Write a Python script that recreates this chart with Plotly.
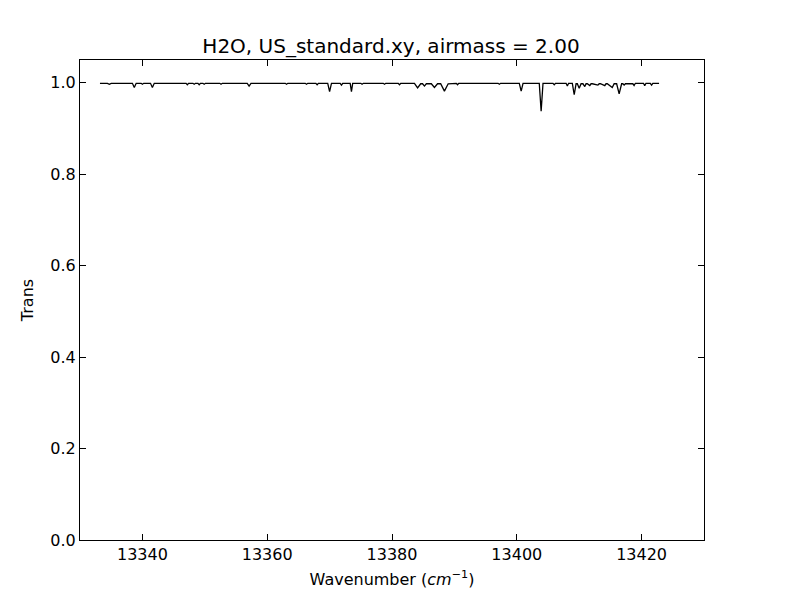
import plotly.graph_objects as go

# Transmission spectrum (wavenumber in cm^-1)
wavenumber = [
    13333.2, 13334.4, 13334.7, 13335.0, 13338.4, 13338.7, 13339.0, 13339.8, 13340.0, 13340.2,
    13341.3, 13341.6, 13341.9, 13347.0, 13347.2, 13347.4, 13348.1, 13348.3, 13348.5, 13348.9,
    13349.1, 13349.3, 13349.7, 13349.9, 13350.1, 13352.4, 13352.6, 13352.8, 13356.8, 13357.1,
    13357.4, 13362.9, 13363.1, 13363.3, 13366.1, 13366.3, 13366.5, 13367.8, 13368.0, 13368.2,
    13369.7, 13370.0, 13370.3, 13371.7, 13371.9, 13372.1, 13373.3, 13373.5, 13373.7, 13375.0,
    13375.2, 13375.4, 13378.6, 13378.8, 13379.0, 13381.0, 13381.2, 13381.4, 13383.6, 13384.1,
    13384.6, 13384.9, 13385.2, 13385.5, 13386.3, 13386.8, 13387.3, 13387.8, 13388.4, 13389.0,
    13390.3, 13390.5, 13390.7, 13397.0, 13397.2, 13397.4, 13400.4, 13400.7, 13401.0, 13403.6,
    13403.9, 13404.2, 13405.8, 13406.0, 13406.2, 13407.9, 13408.1, 13408.3, 13408.9, 13409.2,
    13409.5, 13409.7, 13410.0, 13410.3, 13410.6, 13410.9, 13411.1, 13411.3, 13411.7, 13411.9,
    13412.1, 13413.0, 13413.2, 13413.4, 13414.1, 13414.3, 13414.5, 13415.3, 13415.6, 13416.0,
    13416.4, 13416.8, 13417.0, 13417.2, 13417.4, 13418.6, 13418.8, 13419.0, 13420.3, 13420.5,
    13420.7, 13421.4, 13421.6, 13421.8, 13422.8,
]
transmission = [
    0.999, 0.999, 0.997, 0.999, 0.999, 0.990, 0.999, 0.999, 0.997, 0.999,
    0.999, 0.990, 0.999, 0.999, 0.996, 0.999, 0.999, 0.997, 0.999, 0.999,
    0.996, 0.999, 0.999, 0.997, 0.999, 0.999, 0.997, 0.999, 0.999, 0.993,
    0.999, 0.999, 0.997, 0.999, 0.999, 0.997, 0.999, 0.999, 0.996, 0.999,
    0.999, 0.981, 0.999, 0.999, 0.995, 0.999, 0.999, 0.981, 0.999, 0.999,
    0.997, 0.999, 0.999, 0.997, 0.999, 0.999, 0.996, 0.999, 0.999, 0.989,
    0.998, 0.998, 0.993, 0.998, 0.998, 0.990, 0.998, 0.998, 0.982, 0.998,
    0.999, 0.996, 0.999, 0.999, 0.997, 0.999, 0.999, 0.982, 0.999, 0.999,
    0.938, 0.999, 0.999, 0.996, 0.999, 0.999, 0.993, 0.999, 0.999, 0.974,
    0.998, 0.998, 0.988, 0.998, 0.998, 0.992, 0.998, 0.998, 0.994, 0.998,
    0.998, 0.995, 0.998, 0.998, 0.994, 0.998, 0.998, 0.990, 0.998, 0.998,
    0.976, 0.998, 0.998, 0.995, 0.998, 0.998, 0.994, 0.999, 0.999, 0.994,
    0.999, 0.999, 0.995, 0.999, 0.999,
]

x_ticks = [13340, 13360, 13380, 13400, 13420]
y_ticks = [0.0, 0.2, 0.4, 0.6, 0.8, 1.0]

FONT = "DejaVu Sans"
W, H = 792, 592  # page body adds an 8 px offset

fig = go.Figure()
fig.add_trace(go.Scatter(
    x=wavenumber, y=transmission, mode="lines",
    line=dict(color="black", width=1.3), showlegend=False,
))

axis_common = dict(
    showgrid=False, zeroline=False,
    showline=True, linecolor="black", linewidth=1, mirror="ticks",
    ticks="inside", ticklen=6, tickwidth=1, tickcolor="black",
    tickfont=dict(family=FONT, size=16, color="black"),
)

fig.update_layout(
    width=W, height=H,
    margin=dict(l=72, r=96, t=52, b=60),
    paper_bgcolor="white", plot_bgcolor="white",
    font=dict(family=FONT, color="black"),
    title=dict(
        text="H2O, US_standard.xy, airmass = 2.00",
        font=dict(family=FONT, size=20, color="black"),
        x=383 / W, xanchor="center", xref="container",
        y=1 - 38 / H, yanchor="middle", yref="container",
    ),
    xaxis=dict(
        range=[13330, 13430], tickvals=x_ticks, tickformat="d",
        title=dict(text="Wavenumber (<i>cm</i><sup>−1</sup>)",
                   font=dict(family=FONT, size=16, color="black"), standoff=10),
        **axis_common,
    ),
    yaxis=dict(
        range=[0, 1.05], tickvals=y_ticks, tickformat=".1f",
        title=dict(text="Trans", font=dict(family=FONT, size=16, color="black"), standoff=12),
        **axis_common,
    ),
)

fig.write_html("out.html")
